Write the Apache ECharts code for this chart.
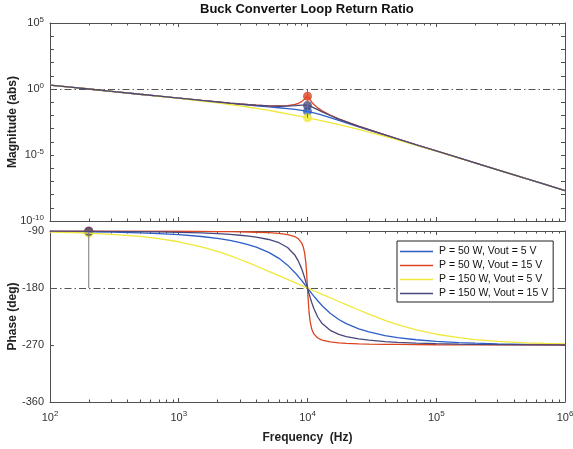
<!DOCTYPE html>
<html>
<head>
<meta charset="utf-8">
<title>Buck Converter Loop Return Ratio</title>
<script src="https://cdn.jsdelivr.net/npm/echarts@6/dist/echarts.min.js"></script>
<style>
    html, body { margin: 0; padding: 0; background: #fff; }
    #loopGainContainer { width: 573px; height: 449px; }
</style>
</head>
<body>
<div id="loopGainContainer"></div>
<script>
// frequency points (Hz) shared by every trace
var freqHz = [100, 150, 200, 300, 500, 700, 1000, 1500, 2000, 2500,
    3000, 3500, 4000, 5000, 6000, 7000, 8000, 8500, 9000, 9300,
    9500, 9700, 9850, 10000, 10150, 10300, 10500, 10800, 11200, 12000,
    13000, 15000, 17500, 20000, 25000, 30000, 40000, 50000, 70000, 100000,
    150000, 200000, 300000, 500000, 700000, 1000000];

var seriesNames = ['P = 50 W, Vout = 5 V', 'P = 50 W, Vout = 15 V', 'P = 150 W, Vout = 5 V', 'P = 150 W, Vout = 15 V'];

// |T| (abs)
var magBlue = [2, 1.333, 1, 0.667, 0.4, 0.2864, 0.201, 0.1348, 0.102, 0.0824,
    0.0696, 0.0605, 0.0537, 0.0444, 0.038, 0.033, 0.0285, 0.0263, 0.0242, 0.0229,
    0.022, 0.0212, 0.0206, 0.02, 0.0194, 0.0188, 0.0181, 0.017, 0.0156, 0.013,
    0.0105, 0.0068, 0.004225, 0.00277, 0.001376, 0.00078, 0.000322, 0.000163, 5.89e-5, 2.01e-5,
    5.94e-6, 2.5e-6, 7.41e-7, 1.6e-7, 5.83e-8, 2.0e-8];
var magRed = [2, 1.333, 1, 0.667, 0.4, 0.2871, 0.202, 0.1364, 0.1042, 0.0853,
    0.0733, 0.0651, 0.0595, 0.0533, 0.052, 0.0558, 0.0686, 0.0828, 0.1108, 0.1429,
    0.1772, 0.2264, 0.2657, 0.28, 0.2508, 0.2033, 0.15, 0.101, 0.067, 0.0372,
    0.0221, 0.01063, 0.00553, 0.00333, 0.001523, 0.000833, 0.000333, 0.0001667, 5.95e-5, 2.02e-5,
    5.95e-6, 2.5e-6, 7.42e-7, 1.6e-7, 5.83e-8, 2.0e-8];
var magYellow = [2, 1.332, 1, 0.665, 0.3965, 0.2808, 0.1932, 0.1237, 0.0881, 0.0664,
    0.0518, 0.0415, 0.0339, 0.02366, 0.01729, 0.0131, 0.0102, 0.00908, 0.00813, 0.00763,
    0.00731, 0.00701, 0.0068, 0.0066, 0.0064, 0.00622, 0.00598, 0.00565, 0.00525, 0.00455,
    0.003846, 0.002829, 0.002009, 0.001479, 0.000868, 0.000551, 0.000259, 0.0001409, 5.44e-5, 1.932e-5,
    5.83e-6, 2.478e-6, 7.38e-7, 1.598e-7, 5.83e-8, 2.0e-8];
var magDark = [2, 1.333, 1, 0.667, 0.4, 0.287, 0.2019, 0.1362, 0.1039, 0.085,
    0.0728, 0.0645, 0.0587, 0.0519, 0.0494, 0.0503, 0.0544, 0.0572, 0.0595, 0.06,
    0.0596, 0.0587, 0.0575, 0.056, 0.0542, 0.0521, 0.049, 0.0441, 0.0377, 0.0271,
    0.0185, 0.0098, 0.0053, 0.003243, 0.001502, 0.000826, 0.000332, 0.0001662, 5.94e-5, 2.019e-5,
    5.95e-6, 2.506e-6, 7.42e-7, 1.6e-7, 5.83e-8, 2.0e-8];

// phase (deg)
var phaseBlue = [-90.6, -90.9, -91.2, -91.7, -92.9, -94.0, -95.8, -98.7, -101.8, -104.9,
    -108.2, -111.8, -115.5, -123.7, -133.2, -143.9, -155.8, -161.9, -168.1, -171.7,
    -174.1, -176.5, -178.3, -180, -181.7, -183.4, -185.6, -188.8, -192.8, -200.1,
    -208.0, -219.8, -229.7, -236.3, -244.5, -249.4, -255.1, -258.2, -261.7, -264.2,
    -266.2, -267.1, -268.1, -268.9, -269.2, -269.4];
var phaseRed = [-90.04, -90.06, -90.08, -90.12, -90.2, -90.3, -90.4, -90.6, -90.9, -91.1,
    -91.4, -91.6, -92.0, -92.7, -93.8, -95.6, -99.0, -102.3, -108.7, -116.2,
    -124.8, -139.5, -157.0, -180, -202.6, -219.6, -233.8, -245.1, -252.5, -259.0,
    -262.3, -265.1, -266.5, -267.3, -268.1, -268.5, -268.9, -269.1, -269.4, -269.6,
    -269.7, -269.8, -269.9, -269.9, -269.95, -270];
var phaseYellow = [-91.7, -92.6, -93.5, -95.2, -98.6, -102.0, -107.0, -114.9, -122.3, -128.9,
    -135.0, -140.4, -145.3, -153.7, -160.6, -166.5, -171.6, -173.9, -176.0, -177.3,
    -178.1, -178.9, -179.4, -180, -180.6, -181.1, -181.9, -182.9, -184.3, -186.9,
    -190.0, -195.4, -201.3, -206.3, -214.7, -221.3, -231.1, -237.7, -246.2, -253.0,
    -258.5, -261.4, -264.2, -266.5, -267.5, -268.3];
var phaseDark = [-90.2, -90.3, -90.4, -90.6, -91.0, -91.4, -92.1, -93.1, -94.3, -95.4,
    -96.7, -98.1, -99.7, -103.4, -108.5, -116.1, -128.4, -137.6, -149.4, -157.9,
    -164.0, -170.3, -175.2, -180, -184.8, -189.4, -195.3, -203.3, -212.5, -225.8,
    -236.1, -246.8, -253.1, -256.6, -260.4, -262.4, -264.6, -265.8, -267.0, -267.9,
    -268.6, -269.0, -269.3, -269.6, -269.7, -269.8];

// margin markers
var gainCrossHz = 200;     // |T| = 1
var phaseCrossHz = 10000;  // phase = -180
var unityGain = 1;
var phaseRef = -180;

(function () {

    'use strict';

    var container = document.getElementById('loopGainContainer');
    var font = '"Liberation Sans", Arial, Helvetica, sans-serif';
    var axisColor = '#505050';
    var labelColor = '#333';
    var colors = ['#2d5ec6', '#dc4420', '#f0e838', '#48487c'];
    var mags = [magBlue, magRed, magYellow, magDark];
    var phases = [phaseBlue, phaseRed, phaseYellow, phaseDark];
    var dashDot = [7, 3, 1.5, 3];

    var rich = {
        b : { fontSize : 11, color : labelColor, fontFamily : font },
        s : { fontSize : 8, color : labelColor, fontFamily : font, padding : [0, 0, 7, 0] }
    };

    function pow10(e) {
        return '{b|10}{s|' + e + '}';
    }

    function pairs(xs, ys) {
        return xs.map(function (x, i) { return [x, ys[i]]; });
    }

    function freqAxis(gridIndex, position, labels) {
        var axis = {
            type : 'log',
            logBase : 10,
            gridIndex : gridIndex,
            position : position,
            min : 100,
            max : 1000000,
            axisLine : { show : true, onZero : false, lineStyle : { color : axisColor, width : 1 } },
            axisTick : { show : true, inside : true, length : 4, lineStyle : { color : axisColor } },
            minorTick : { show : true, splitNumber : 9, length : 2.5, lineStyle : { color : axisColor } },
            splitLine : { show : false },
            minorSplitLine : { show : false },
            axisLabel : {
                show : labels,
                margin : 8,
                formatter : function (v) { return pow10(Math.round(Math.log10(v))); },
                rich : rich
            }
        };
        if (labels) {
            axis.name = 'Frequency  (Hz)';
            axis.nameLocation = 'middle';
            axis.nameGap = 30;
            axis.nameMoveOverlap = false;
            axis.nameTextStyle = { fontSize : 12, fontWeight : 'bold', color : '#222', fontFamily : font };
        }
        return axis;
    }

    function valueAxis(gridIndex, position, min, max, interval, formatter, name) {
        var axis = {
            type : 'value',
            gridIndex : gridIndex,
            position : position,
            min : min,
            max : max,
            interval : interval,
            axisLine : { show : true, onZero : false, lineStyle : { color : axisColor, width : 1 } },
            axisTick : { show : true, inside : true, length : 4, lineStyle : { color : axisColor } },
            splitLine : { show : false },
            axisLabel : {
                show : !!formatter,
                margin : 6,
                fontSize : 11,
                color : labelColor,
                fontFamily : font,
                formatter : formatter,
                rich : rich
            }
        };
        if (name) {
            axis.name = name;
            axis.nameLocation = 'middle';
            axis.nameGap = 31;
            axis.nameMoveOverlap = false;
            axis.nameTextStyle = { fontSize : 12, fontWeight : 'bold', color : '#222', fontFamily : font };
        }
        return axis;
    }

    var series = [];

    // magnitude and phase traces
    for (var k = 0; k < 4; k++) {
        var line = {
            name : seriesNames[k],
            type : 'line',
            symbol : 'none',
            color : colors[k],
            lineStyle : { width : 1.3, color : colors[k] }
        };
        series.push(Object.assign({}, line, {
            xAxisIndex : 0, yAxisIndex : 0, data : pairs(freqHz, mags[k])
        }));
        series.push(Object.assign({}, line, {
            xAxisIndex : 2, yAxisIndex : 3, data : pairs(freqHz, phases[k])
        }));
    }

    var iPhase = freqHz.indexOf(phaseCrossHz);
    var iGain = freqHz.indexOf(gainCrossHz);
    var lowest = Math.min.apply(null, mags.map(function (m) { return m[iPhase]; }));

    // gain margin stem + unity line
    series.push({
        name : 'gm',
        type : 'line',
        xAxisIndex : 0,
        yAxisIndex : 0,
        symbol : 'none',
        lineStyle : { color : '#777', width : 1 },
        data : [[phaseCrossHz, unityGain], [phaseCrossHz, lowest]],
        markLine : {
            silent : true,
            symbol : 'none',
            label : { show : false },
            lineStyle : { color : '#555', width : 1, type : dashDot },
            data : [{ yAxis : unityGain }]
        }
    });

    // phase margin stem + -180 line
    series.push({
        name : 'pm',
        type : 'line',
        xAxisIndex : 2,
        yAxisIndex : 3,
        symbol : 'none',
        lineStyle : { color : '#777', width : 1 },
        data : [[gainCrossHz, phases[0][iGain]], [gainCrossHz, phaseRef]],
        markLine : {
            silent : true,
            symbol : 'none',
            label : { show : false },
            lineStyle : { color : '#555', width : 1, type : dashDot },
            data : [{ yAxis : phaseRef }]
        }
    });

    // margin dots
    series.push({
        name : 'gmDots',
        type : 'scatter',
        xAxisIndex : 0,
        yAxisIndex : 0,
        symbolSize : 9,
        data : mags.map(function (m, j) {
            return { value : [phaseCrossHz, m[iPhase]], itemStyle : { color : colors[j] } };
        })
    });
    series.push({
        name : 'pmDots',
        type : 'scatter',
        xAxisIndex : 2,
        yAxisIndex : 3,
        symbolSize : 9,
        data : phases.map(function (p, j) {
            return { value : [gainCrossHz, p[iGain]], itemStyle : { color : colors[j] } };
        })
    });

    var option = {
        animation : false,
        backgroundColor : '#fff',
        textStyle : { fontFamily : font },
        title : {
            text : 'Buck Converter Loop Return Ratio',
            left : 200,
            top : 3,
            padding : 0,
            textStyle : { fontSize : 13, fontWeight : 'bold', color : '#111', fontFamily : font }
        },
        legend : {
            data : seriesNames,
            orient : 'vertical',
            left : 397,
            top : 241,
            z : 20,
            zlevel : 0,
            padding : [5, 5, 3, 3],
            itemGap : 3,
            itemWidth : 33,
            itemHeight : 1.6,
            icon : 'rect',
            backgroundColor : '#fff',
            borderColor : '#222',
            borderWidth : 1,
            borderRadius : 0,
            textStyle : { fontSize : 10.5, color : '#111', fontFamily : font, padding : [0, 0, 0, 1] }
        },
        grid : [
            { left : 50, top : 23, width : 515, height : 198, outerBoundsMode : 'none' },
            { left : 50, top : 231, width : 515, height : 171, outerBoundsMode : 'none' }
        ],
        xAxis : [
            freqAxis(0, 'bottom', false),
            freqAxis(0, 'top', false),
            freqAxis(1, 'bottom', true),
            freqAxis(1, 'top', false)
        ],
        yAxis : [
            { type : 'log', logBase : 10, gridIndex : 0, min : 1e-10, max : 1e5, show : false },
            valueAxis(0, 'left', -10, 5, 1, function (v) { return v % 5 === 0 ? pow10(v) : ''; }, 'Magnitude (abs)'),
            valueAxis(0, 'right', -10, 5, 1, null, null),
            valueAxis(1, 'left', -360, -90, 90, function (v) { return String(v); }, 'Phase (deg)'),
            valueAxis(1, 'right', -360, -90, 90, null, null)
        ],
        series : series
    };

    var chart = echarts.init(container, null, { renderer : 'canvas' });
    chart.setOption(option);
})();
</script>
</body>
</html>
